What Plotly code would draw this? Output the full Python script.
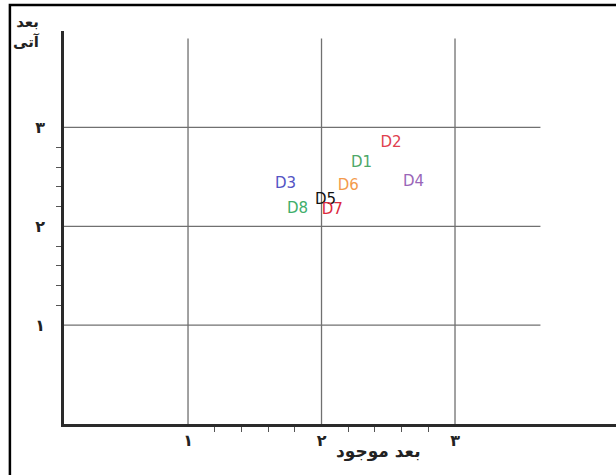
import plotly.graph_objects as go

# Data
labels = ["D1", "D2", "D3", "D4", "D5", "D6", "D7", "D8"]
x_current = [2.30, 2.52, 1.73, 2.69, 2.03, 2.20, 2.08, 1.82]   # بعد موجود
y_future = [2.64, 2.84, 2.43, 2.45, 2.26, 2.41, 2.16, 2.17]    # بعد آتی
colors = ["#4ea868", "#e0404e", "#5454c4", "#9a66b8", "#111111",
          "#f39a4c", "#dc2a3c", "#3fae6a"]

major_vals = [1, 2, 3]
major_text = ["۱", "۲", "۳"]
minor_vals = [1.2, 1.4, 1.6, 1.8, 2.2, 2.4, 2.6, 2.8]

x_range = [0.071, 4.206]
y_range = [0.0, 3.976]
grid_x_end = 3.64
grid_y_end = 3.9

fig = go.Figure()
fig.add_trace(go.Scatter(
    x=x_current, y=y_future, mode="text", text=labels,
    textposition="middle center",
    textfont=dict(family="DejaVu Sans", size=15, color=colors),
    showlegend=False, hoverinfo="skip"))

# grid lines (partial length like the reference)
for v in major_vals:
    fig.add_shape(type="line", xref="x", yref="y", x0=x_range[0], x1=grid_x_end,
                  y0=v, y1=v, line=dict(color="#707070", width=1.3), layer="below")
    fig.add_shape(type="line", xref="x", yref="y", x0=v, x1=v,
                  y0=y_range[0], y1=grid_y_end, line=dict(color="#707070", width=1.3),
                  layer="below")

# outer frame (top and left visible)
fig.add_shape(type="rect", xref="paper", yref="paper", x0=-0.098, x1=1.2,
              y0=-0.3, y1=1.066, line=dict(color="black", width=2.5))

axis_font = dict(family="DejaVu Sans", size=16, color="#222222", weight="bold")
fig.update_xaxes(range=x_range, tickmode="array", tickvals=major_vals, ticktext=major_text,
                 showgrid=False, zeroline=False, showline=True, linecolor="#2a2a2a",
                 linewidth=2.5, ticks="", tickfont=axis_font, ticklabelstandoff=0,
                 minor=dict(tickmode="array", tickvals=minor_vals, ticks="outside",
                            ticklen=5, tickcolor="#555555", tickwidth=1, showgrid=False))
fig.update_yaxes(range=y_range, tickmode="array", tickvals=major_vals, ticktext=major_text,
                 showgrid=False, zeroline=False, showline=True, linecolor="#2a2a2a",
                 linewidth=2.5, ticks="", tickfont=axis_font, ticklabelstandoff=13,
                 minor=dict(tickmode="array", tickvals=minor_vals, ticks="outside",
                            ticklen=5, tickcolor="#555555", tickwidth=1, showgrid=False))

fig.add_annotation(text="<b>بعد<br>آتی</b>", xref="paper", yref="paper", x=-0.04, y=0.997,
                   xanchor="right", yanchor="middle", align="right", showarrow=False,
                   font=dict(family="DejaVu Sans", size=15, color="#222222"))
fig.add_annotation(text="<b>بعد موجود</b>", xref="paper", yref="paper", x=0.57, y=-0.071,
                   xanchor="center", yanchor="middle", showarrow=False,
                   font=dict(family="DejaVu Sans", size=17, color="#222222"))

fig.update_layout(width=616, height=475, margin=dict(l=64, r=0, t=31, b=51),
                  paper_bgcolor="white", plot_bgcolor="white")

fig.write_html("out.html", config={"displayModeBar": False},
               post_script="document.body.style.margin='0';document.body.style.overflow='hidden';")
